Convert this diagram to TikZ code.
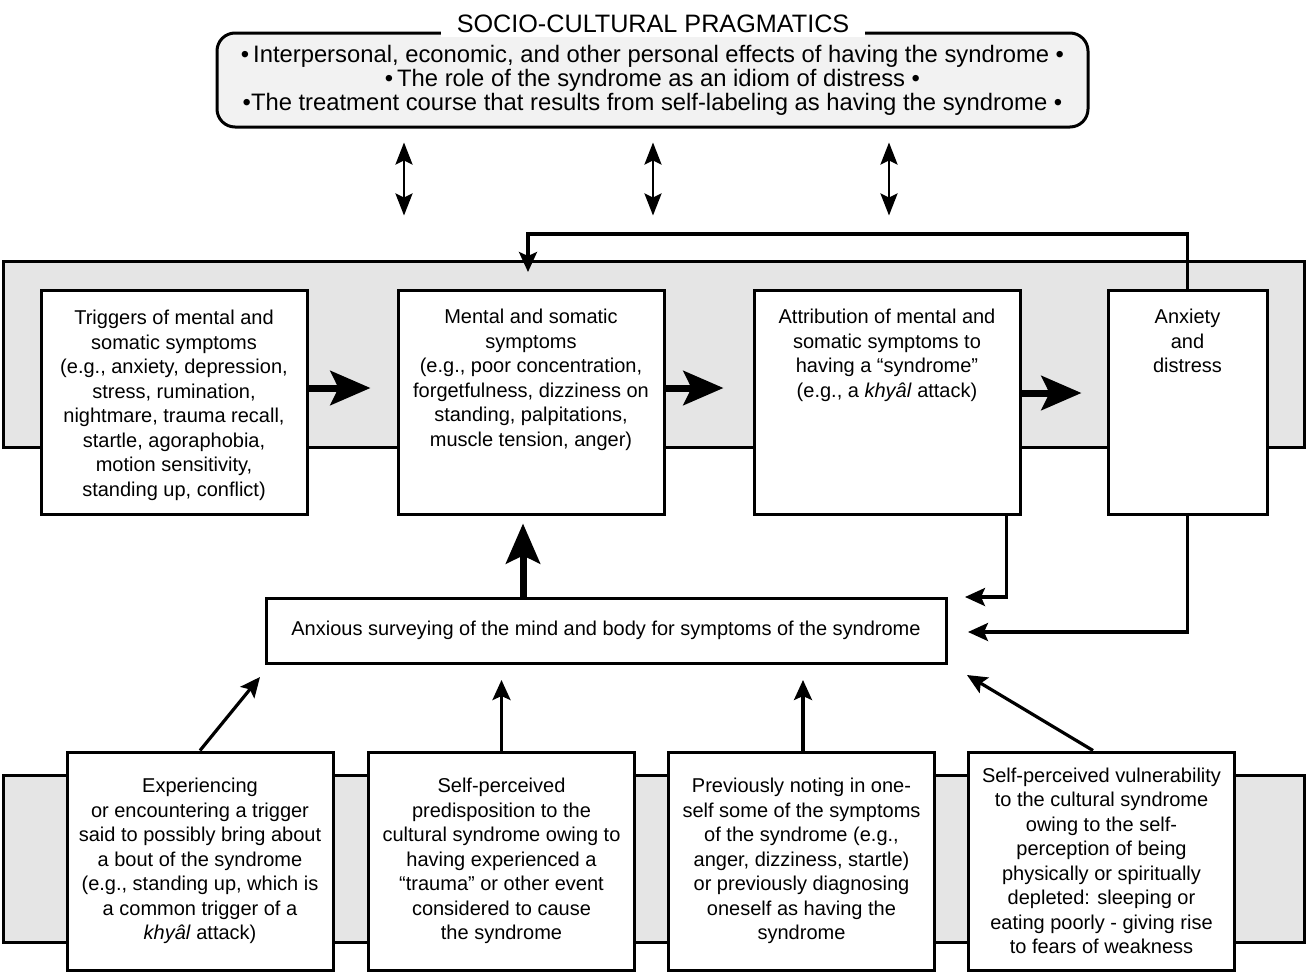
\documentclass[tikz,border=0pt]{standalone}
\usepackage{fontspec}
\setmainfont{Liberation Sans}
\usetikzlibrary{arrows.meta}
\usetikzlibrary{positioning}

\begin{document}
\begin{tikzpicture}[
    x=0.5pt, y=-0.5pt,
    line width=1.5pt,
    font=\fontsize{10}{12.25}\selectfont
]
\tikzset{
    mybox/.style = {rectangle, draw=black, fill=white, minimum width=133pt, minimum height=112pt},
    mybotbox/.style = {rectangle, draw=black, fill=white, align=center, minimum width=133pt, minimum height=109pt},
    mytext/.style = {align=center, inner sep=0pt},
    myband/.style = {rectangle, draw=black, fill=black!10, minimum width=650.5pt},
    edgef/.style = {-{Stealth[length=20pt,width=17pt,inset=4pt]}, line width=3.5pt, shorten >=13pt},
    edget/.style = {-{Stealth[length=10pt,width=9pt,inset=2pt]}, line width=1.6pt},
    edged/.style = {{Stealth[length=11pt,width=8.5pt,inset=2pt]}-{Stealth[length=11pt,width=8.5pt,inset=2pt]}, line width=1.3pt}
}
\useasboundingbox (0,0) rectangle (1307,975);
% grey bands
\node[myband, minimum height=93pt] at (653.5,354) (band) {};
\node[myband, minimum height=83.5pt] at (653.5,858.5) (bandb) {};
% socio-cultural box
\node[draw=black, fill=black!5, rounded corners=9pt, minimum width=435.5pt, minimum height=47pt,
      align=center, font=\fontsize{11.9}{12}\selectfont] at (652.5,80) (soc)
    {•\,Interpersonal, economic, and other personal effects of having the syndrome •\\
     •\,The role of the syndrome as an idiom of distress •\\
     •The treatment course that results from self-labeling as having the syndrome •};
\node[fill=white, inner xsep=8pt, inner ysep=2pt, font=\fontsize{12.6}{14}\selectfont] at (653,24) (title)
    {SOCIO-CULTURAL PRAGMATICS};
% upper row
\node[mybox] at (174,402) (trig) {};
\node[mytext, below=10.2pt of trig.north] (trigt) {Triggers of mental and\\somatic symptoms\\(e.g., anxiety, depression,\\stress, rumination,\\nightmare, trauma recall,\\startle, agoraphobia,\\motion sensitivity,\\standing up, conflict)};
\node[mybox] at (531,402) (ment) {};
\node[mytext, below=9.6pt of ment.north] (mentt) {Mental and somatic\\symptoms\\(e.g., poor concentration,\\forgetfulness, dizziness on\\standing, palpitations,\\muscle tension, anger)};
\node[mybox] at (887,402) (attr) {};
\node[mytext, below=9.6pt of attr.north] (attrt) {Attribution of mental and\\somatic symptoms to\\having a “syndrome”\\(e.g., a \textit{khyâl} attack)};
\node[mybox, minimum width=79.5pt] at (1187.5,402) (anx) {};
\node[mytext, below=9.6pt of anx.north] (anxt) {Anxiety\\and\\distress};
% surveying
\node[rectangle, draw=black, fill=white, minimum width=340pt, minimum height=32.5pt] at (606,630.5) (surv)
    {Anxious surveying of the mind and body for symptoms of the syndrome};
% lower row
\node[mybotbox] at (200,861) (expb) {Experiencing\\or encountering a trigger\\said to possibly bring about\\a bout of the syndrome\\(e.g., standing up, which is\\a common trigger of a\\\textit{khyâl} attack)};
\node[mybotbox] at (501.5,861) (predb) {Self-perceived\\predisposition to the\\cultural syndrome owing to\\having experienced a\\“trauma” or other event\\considered to cause\\the syndrome};
\node[mybotbox] at (801.5,861) (noteb) {Previously noting in one-\\self some of the symptoms\\of the syndrome (e.g.,\\anger, dizziness, startle)\\or previously diagnosing\\oneself as having the\\syndrome};
\node[mybotbox] at (1101.5,861) (vulnb) {Self-perceived vulnerability\\to the cultural syndrome\\owing to the self-\\perception of being\\physically or spiritually\\depleted: sleeping or\\eating poorly - giving rise\\to fears of weakness};
% free ends
\coordinate (fbtip) at (528,272);
\coordinate (attrin) at (965,597);
\coordinate (anxin) at (968,632);
\coordinate (expin) at (260,677);
\coordinate (predin) at (501.5,680);
\coordinate (notein) at (803,680);
\coordinate (vulnin) at (967,675);
% connectors
\foreach \x in {404,653,889}
    \draw[edged, shorten <=7pt, shorten >=22pt] (soc.south -| \x,0) -- (band.north -| \x,0);
\draw[edgef] ([yshift=7pt]trig.east) -- ([yshift=7pt]ment.west);
\draw[edgef, shorten >=14.5pt] ([yshift=7pt]ment.east) -- ([yshift=7pt]attr.west);
\draw[edgef, shorten >=12.5pt] ([yshift=4.5pt]attr.east) -- ([yshift=4.5pt]anx.west);
\draw[edgef, shorten >=4pt] (surv.north -| 523,0) -- (ment.south -| 523,0);
\draw[edget] (anx.north) |- (fbtip |- 0,234) -- (fbtip);
\draw[edget] ([xshift=-7.5pt]attr.south east) |- (attrin);
\draw[edget] (anx.south) |- (anxin);
\draw[edget] (expb.north) -- (expin);
\draw[edget] (predb.north) -- (predin);
\draw[edget] (noteb.north -| notein) -- (notein);
\draw[edget] ([xshift=-4.25pt]vulnb.north) -- (vulnin);
\end{tikzpicture}
\end{document}
